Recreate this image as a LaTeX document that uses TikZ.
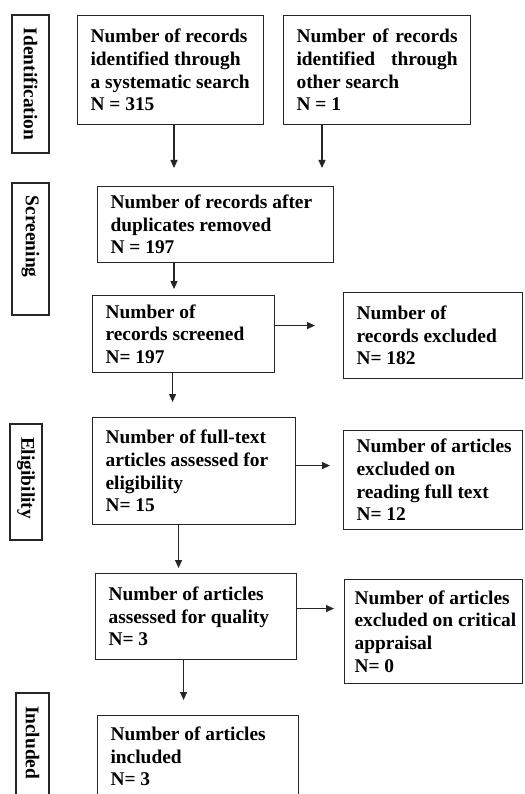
\documentclass[tikz,border=0pt]{standalone}
\usepackage{fontspec}
\setmainfont{Liberation Serif}
\usetikzlibrary{arrows.meta,positioning,calc}
\hyphenpenalty=10000
\exhyphenpenalty=10000
\definecolor{boxline}{HTML}{262626}
\tikzset{
  recbox/.style={
    rectangle, draw=boxline, line width=1.1pt,
    anchor=north west, inner xsep=13pt, inner ysep=0pt,
    text width=#1, align=flush left,
    font=\fontsize{19.4}{22.7}\selectfont\bfseries
  },
  recbox/.default=150pt,
  stagebox/.style={
    rectangle, draw=boxline, line width=1.1pt,
    rotate=-90, inner xsep=13pt, inner ysep=0pt,
    text width=#1, align=flush left,
    font=\fontsize{19.4}{22.7}\selectfont\bfseries
  },
  stagebox/.default=100pt,
  flowarrow/.style={
    -{Triangle[length=8pt,width=7pt]}, line width=1.2pt, draw=boxline
  },
}

\begin{document}
\begin{tikzpicture}[x=1pt, y=-1pt]
  \useasboundingbox (0,0) rectangle (524,794);
  % stage labels on the left
  \node[stagebox=112pt, minimum height=37pt] (ident) at (30.5,84) {Identification};
  \node[stagebox=106pt, minimum height=37pt] (screen) at (30.5,249) {Screening};
  \node[stagebox=90pt, minimum height=32pt] (elig) at (26,482) {Eligibility};
  \node[stagebox=84pt, minimum height=33pt] (incl) at (32.5,748) {Included};
  % record boxes
  \node[recbox=160pt, minimum height=109pt] (srch) at (77,15)
    {Number of records\\identified through\\\mbox{a systematic search}\\N = 315};
  \node[recbox=161pt, minimum height=109pt] (other) at (283,15)
    {\makebox[161pt][s]{Number of records}\\\makebox[161pt][s]{identified through}\\other search\\N = 1};
  \node[recbox=210pt, minimum height=76pt] (dup) at (97,186)
    {Number of records after\\duplicates removed\\N = 197};
  \node[recbox=156pt, minimum height=77pt] (screened) at (92,295)
    {Number of\\records screened\\N= 197};
  \node[recbox=153pt, minimum height=86pt] (excl) at (343,292)
    {Number of\\records excluded\\N= 182};
  \node[recbox=177pt, minimum height=107pt] (fulltext) at (92,417)
    {Number of full-text\\articles assessed for\\eligibility\\N= 15};
  \node[recbox=153pt, minimum height=99pt] (exfull) at (343,430)
    {\mbox{Number of articles}\\excluded on\\reading full text\\N= 12};
  \node[recbox=175pt, minimum height=86pt] (quality) at (95,573)
    {Number of articles\\assessed for quality\\N= 3};
  \node[recbox=158pt, inner xsep=10pt, minimum height=104pt] (excrit) at (344,579)
    {\mbox{Number of articles}\\\mbox{excluded on critical}\\appraisal\\N= 0};
  \node[recbox=175pt, minimum height=82pt] (incart) at (97,715)
    {Number of articles\\included\\N= 3};
  % connectors
  \coordinate (srchend) at (174,168);
  \coordinate (otherend) at (322,168);
  \draw[flowarrow] (srch.south -| srchend) -- (srchend);
  \draw[flowarrow] (other.south -| otherend) -- (otherend);
  \draw[flowarrow, shorten >=6pt] (dup.south -| srchend) -- (screened.north -| srchend);
  \draw[flowarrow, shorten >=28pt] ([yshift=8.5pt]screened.east) -- ([yshift=8.5pt]screened.east -| excl.west);
  \draw[flowarrow, shorten >=15pt] ([xshift=-11pt]screened.south) -- ([xshift=-11pt]screened.south |- fulltext.north);
  \draw[flowarrow, shorten >=13pt] ([yshift=5.5pt]fulltext.east) -- ([yshift=5.5pt]fulltext.east -| exfull.west);
  \draw[flowarrow, shorten >=5pt] ([xshift=-15.5pt]fulltext.south) -- ([xshift=-15.5pt]fulltext.south |- quality.north);
  \draw[flowarrow, shorten >=10pt] ([yshift=8pt]quality.east) -- ([yshift=8pt]quality.east -| excrit.west);
  \draw[flowarrow, shorten >=15pt] ([xshift=-12.5pt]quality.south) -- ([xshift=-12.5pt]quality.south |- incart.north);
\end{tikzpicture}
\end{document}
